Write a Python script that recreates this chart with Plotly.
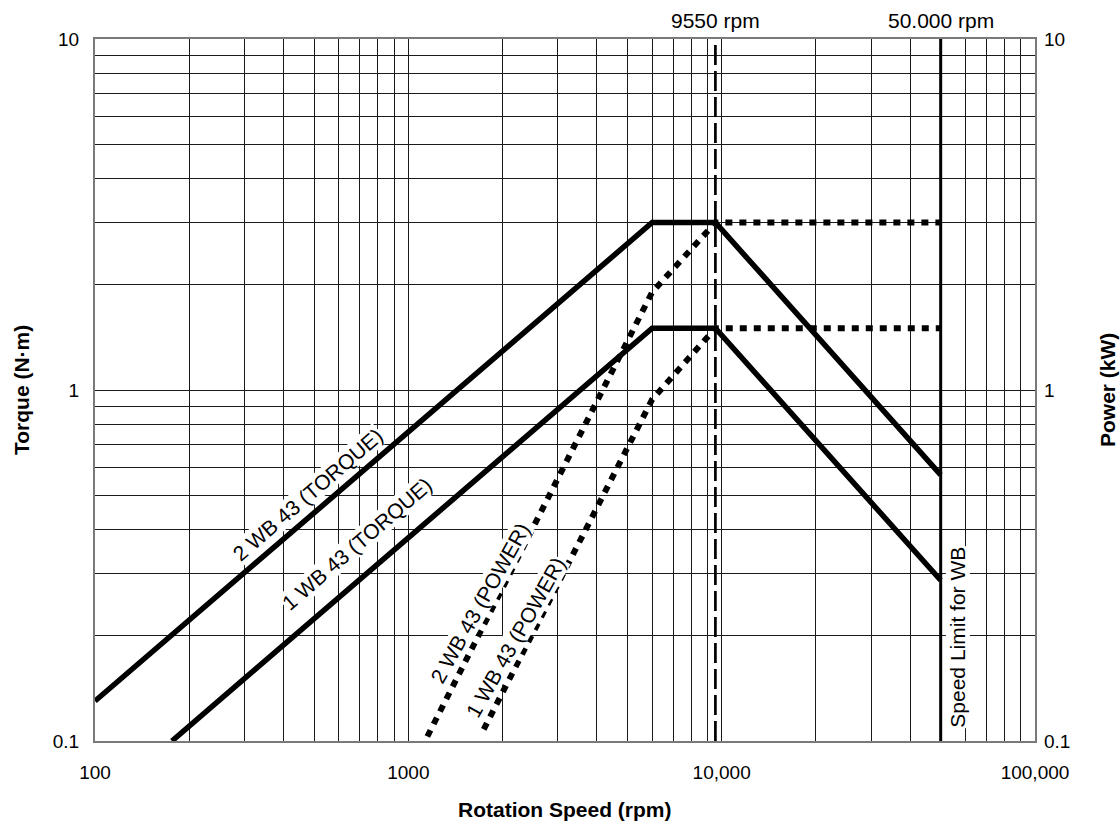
import math
import plotly.graph_objects as go

# ---- data ----
speed_2wb_torque = [100, 6000, 9550, 50000]
torque_2wb = [0.13, 3.0, 3.0, 0.573]

speed_1wb_torque = [176, 6000, 9550, 50000]
torque_1wb = [0.1, 1.5, 1.5, 0.287]

speed_2wb_power = [1150, 6000, 9550, 50000]
power_2wb = [0.103, 1.9, 3.0, 3.0]

speed_1wb_power = [1740, 6000, 9550, 50000]
power_1wb = [0.108, 0.94, 1.5, 1.5]

rated_speed = 9550
speed_limit = 50000
y_span = [0.1, 10]

x_tickvals = [m * 10 ** e for e in (2, 3, 4) for m in range(1, 10)] + [100000]
x_labels = {100: "100", 1000: "1000", 10000: "10,000", 100000: "100,000"}
y_tickvals = [m * 10 ** e for e in (-1, 0) for m in range(1, 10)] + [10]
y_labels = {0.1: "0.1", 1: "1", 10: "10"}

x_ticktext = [x_labels.get(v, "") for v in x_tickvals]
y_ticktext = [y_labels.get(round(v, 6), "") for v in y_tickvals]

FONT = "Liberation Sans, Arial, Helvetica, sans-serif"

fig = go.Figure()

# vertical reference lines
fig.add_trace(go.Scatter(x=[rated_speed, rated_speed], y=y_span, mode="lines",
                         line=dict(color="black", width=2.7, dash="20px,6px"),
                         showlegend=False, hoverinfo="skip"))
fig.add_trace(go.Scatter(x=[speed_limit, speed_limit], y=y_span, mode="lines",
                         line=dict(color="black", width=3),
                         showlegend=False, hoverinfo="skip"))

# torque curves
fig.add_trace(go.Scatter(x=speed_2wb_torque, y=torque_2wb, mode="lines",
                         name="2 WB 43 (TORQUE)",
                         line=dict(color="black", width=5.5), showlegend=False))
fig.add_trace(go.Scatter(x=speed_1wb_torque, y=torque_1wb, mode="lines",
                         name="1 WB 43 (TORQUE)",
                         line=dict(color="black", width=5.5), showlegend=False))

# power curves (right axis)
fig.add_trace(go.Scatter(x=speed_2wb_power, y=power_2wb, mode="lines",
                         name="2 WB 43 (POWER)", yaxis="y2",
                         line=dict(color="black", width=6, dash="7px,7px"),
                         showlegend=False))
fig.add_trace(go.Scatter(x=speed_1wb_power, y=power_1wb, mode="lines",
                         name="1 WB 43 (POWER)", yaxis="y2",
                         line=dict(color="black", width=6, dash="7px,7px"),
                         showlegend=False))

grid_col = "#1a1a1a"
axis_common = dict(type="log", showgrid=True, gridcolor=grid_col, gridwidth=1,
                   showline=True, linecolor="#7a7a7a", linewidth=2,
                   zeroline=False, ticks="",
                   tickfont=dict(family=FONT, size=19, color="black"))

fig.update_layout(
    width=1120, height=825,
    margin=dict(l=95, r=85, t=38.5, b=83.5),
    paper_bgcolor="white", plot_bgcolor="white",
    font=dict(family=FONT, color="black"),
    xaxis=dict(range=[2, 5], tickvals=x_tickvals, ticktext=x_ticktext,
               ticklabelstandoff=13, mirror=True, **axis_common),
    yaxis=dict(range=[-1, 1], tickvals=y_tickvals, ticktext=y_ticktext,
               ticklabelstandoff=10, mirror=True, **axis_common),
    yaxis2=dict(type="log", range=[-1, 1], overlaying="y", side="right",
                tickvals=y_tickvals, ticktext=y_ticktext, showgrid=False,
                showline=False, zeroline=False, ticks="", ticklabelstandoff=8,
                tickfont=dict(family=FONT, size=19, color="black")),
)

ann_font = dict(family=FONT, size=21, color="black")
title_font = dict(family=FONT, size=21, color="black")

def L(v):
    return math.log10(v)

C = dict(xanchor="center", yanchor="middle", showarrow=False)

annotations = [
    dict(x=L(478), y=L(0.503), xref="x", yref="y", text="2 WB 43 (TORQUE)",
         textangle=-40.8, font=ann_font, bgcolor="white", borderpad=0, **C),
    dict(x=L(687), y=L(0.365), xref="x", yref="y", text="1 WB 43 (TORQUE)",
         textangle=-40.8, font=ann_font, bgcolor="white", borderpad=0, **C),
    dict(x=L(1698), y=L(0.248), xref="x", yref="y", text="2 WB 43 (POWER)",
         textangle=-60.6, font=ann_font, bgcolor="white", borderpad=0, **C),
    dict(x=L(2198), y=L(0.197), xref="x", yref="y", text="1 WB 43 (POWER)",
         textangle=-60.6, font=ann_font, bgcolor="white", borderpad=0, **C),
    dict(x=L(56800), y=L(0.197), xref="x", yref="y", text="Speed Limit for WB",
         textangle=-90, font=ann_font, bgcolor="white", borderpad=0, **C),
    dict(x=L(rated_speed), y=1, xref="x", yref="paper", yshift=19,
         text="9550 rpm", font=ann_font, **C),
    dict(x=L(speed_limit), y=1, xref="x", yref="paper", yshift=19,
         text="50.000 rpm", font=ann_font, **C),
    dict(x=0, y=0.5, xref="paper", yref="paper", xshift=-74, text="<b>Torque (N·m)</b>",
         textangle=-90, font=title_font, **C),
    dict(x=1, y=0.5, xref="paper", yref="paper", xshift=72, text="<b>Power (kW)</b>",
         textangle=-90, font=title_font, **C),
    dict(x=0.5, y=0, xref="paper", yref="paper", yshift=-68,
         text="<b>Rotation Speed (rpm)</b>", font=title_font, **C),
]
fig.update_layout(annotations=annotations)

# remove the default 8px body margin so the figure fills the window exactly
fig.write_html("out.html",
               config={"displayModeBar": False},
               post_script="document.body.style.margin='0';"
                           "document.body.style.overflow='hidden';")
